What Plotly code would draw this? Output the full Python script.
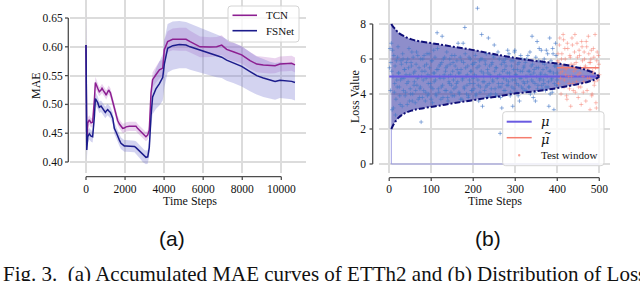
import plotly.graph_objects as go

W, H = 640, 281

# ---------------- (a) Accumulated MAE curves ----------------
steps_a = [0, 40, 90, 170, 260, 340, 430, 480, 600, 680, 770, 820, 890, 940, 990, 1030, 1110,
           1160, 1250, 1370, 1450, 1540, 1620, 1710, 1790, 1880, 1960, 2050, 2220, 2390, 2480,
           2560, 2650, 2730, 2820, 2900, 2990, 3070, 3160, 3240, 3330, 3410, 3580, 3760, 3930,
           4010, 4180, 4440, 4780, 5120, 5330, 5840, 6350, 6690, 6950, 7200, 7540, 7970, 8400,
           8740, 9080, 9420, 9680, 9930, 10280, 10530, 10700]
tcn_mae = [0.603, 0.433, 0.468, 0.473, 0.468, 0.469, 0.508, 0.538, 0.528, 0.522, 0.525, 0.528,
           0.524, 0.522, 0.519, 0.516, 0.521, 0.525, 0.520, 0.503, 0.492, 0.480, 0.472, 0.466,
           0.462, 0.4585, 0.459, 0.461, 0.462, 0.4625, 0.462, 0.462, 0.458, 0.455, 0.452,
           0.4496, 0.447, 0.444, 0.447, 0.455, 0.520, 0.543, 0.5515, 0.560, 0.563, 0.595,
           0.609, 0.613, 0.613, 0.613, 0.609, 0.600, 0.5995, 0.600, 0.603, 0.5955, 0.5915,
           0.586, 0.576, 0.570, 0.5686, 0.5675, 0.567, 0.570, 0.5704, 0.5715, 0.5686]
fsnet_mae = [0.603, 0.421, 0.444, 0.449, 0.445, 0.444, 0.479, 0.510, 0.503, 0.495, 0.497, 0.494,
             0.491, 0.489, 0.486, 0.488, 0.491, 0.489, 0.486, 0.476, 0.4585, 0.452, 0.444,
             0.438, 0.4325, 0.430, 0.428, 0.428, 0.428, 0.4275, 0.427, 0.425, 0.422, 0.418,
             0.415, 0.412, 0.409, 0.408, 0.409, 0.425, 0.480, 0.513, 0.527, 0.536, 0.547,
             0.570, 0.5975, 0.602, 0.604, 0.603, 0.600, 0.594, 0.588, 0.584, 0.582, 0.577,
             0.572, 0.566, 0.557, 0.550, 0.546, 0.542, 0.540, 0.542, 0.541, 0.540, 0.538]
tcn_spread = [0.060, 0.015, 0.009, 0.008, 0.008, 0.008, 0.009, 0.010, 0.009, 0.008, 0.008, 0.008,
              0.008, 0.008, 0.008, 0.008, 0.008, 0.008, 0.008, 0.008, 0.008, 0.008, 0.008,
              0.008, 0.008, 0.008, 0.008, 0.008, 0.008, 0.008, 0.008, 0.008, 0.008, 0.008,
              0.008, 0.008, 0.008, 0.008, 0.008, 0.009, 0.012, 0.013, 0.014, 0.015, 0.015,
              0.017, 0.018, 0.019, 0.020, 0.020, 0.019, 0.018, 0.017, 0.017, 0.017, 0.016,
              0.016, 0.015, 0.015, 0.014, 0.014, 0.014, 0.013, 0.013, 0.013, 0.013, 0.013]
fsnet_spread = [0.065, 0.020, 0.011, 0.010, 0.010, 0.010, 0.011, 0.012, 0.011, 0.010, 0.010,
                0.010, 0.010, 0.010, 0.010, 0.010, 0.010, 0.010, 0.010, 0.010, 0.010, 0.010,
                0.010, 0.010, 0.010, 0.010, 0.010, 0.010, 0.010, 0.010, 0.010, 0.011, 0.011,
                0.011, 0.011, 0.012, 0.012, 0.012, 0.012, 0.014, 0.020, 0.030, 0.035, 0.038,
                0.040, 0.041, 0.042, 0.042, 0.041, 0.040, 0.040, 0.039, 0.038, 0.037, 0.036,
                0.036, 0.035, 0.035, 0.034, 0.033, 0.033, 0.032, 0.032, 0.031, 0.031, 0.031,
                0.031]
series_a = ["TCN", "FSNet"]
mae_ticks = [0.40, 0.45, 0.50, 0.55, 0.60, 0.65]
step_ticks_a = [0, 2000, 4000, 6000, 8000, 10000]

# ---------------- (b) Distribution of loss ----------------
bound_steps = [5, 9, 14, 21, 33, 53, 73, 113, 152, 192, 232, 260, 291, 331, 371, 410, 451, 474, 490, 500]
bound_upper = [8.0, 7.85, 7.72, 7.52, 7.33, 7.12, 7.01, 6.86, 6.70, 6.55, 6.36, 6.23, 6.10, 5.94,
               5.83, 5.71, 5.50, 5.33, 5.18, 5.0]
bound_lower = [2.0, 2.2, 2.4, 2.62, 2.85, 3.05, 3.16, 3.31, 3.47, 3.62, 3.77, 3.86, 4.0, 4.11,
               4.23, 4.38, 4.57, 4.70, 4.84, 5.0]
train_steps_even = list(range(2, 401, 2))
train_loss_even = [
    6.6, 5.8, 5.3, 6.5, 3.2, 4.1, 5.6, 3.7, 4.8, 6.1, 5.2, 4.4, 3.4, 5.9, 4.9, 6.3, 4.2, 5.4, 3.9, 5.1,
    4.6, 6.0, 5.5, 3.6, 4.3, 5.8, 6.4, 4.0, 5.2, 4.7, 3.5, 5.7, 4.5, 6.2, 5.0, 3.8, 4.4, 2.4, 5.3, 6.0,
    4.2, 5.6, 3.6, 4.9, 6.3, 5.1, 4.0, 5.5, 4.6, 3.7, 5.9, 4.3, 6.5, 5.2, 4.8, 3.9, 7.5, 5.4, 4.1, 5.0,
    5.7, 4.4, 7.3, 3.8, 4.9, 6.1, 5.3, 4.2, 5.6, 3.6, 4.7, 6.0, 5.1, 4.5, 3.9, 5.8, 4.3, 6.2, 5.0, 4.6,
    5.4, 6.9, 4.1, 5.2, 3.7, 5.9, 4.8, 6.9, 4.4, 7.8, 5.5, 4.0, 5.1, 3.8, 6.1, 4.6, 5.3, 4.2, 5.7, 4.9,
    4.3, 5.8, 3.9, 5.0, 8.9, 4.5, 5.6, 4.1, 6.0, 7.4, 3.3, 5.2, 4.7, 5.9, 4.4, 3.8, 5.4, 7.2, 4.6, 5.1,
    4.0, 5.7, 4.8, 6.2, 6.8, 4.3, 5.5, 3.9, 5.0, 4.6, 6.0, 1.75, 4.4, 3.2, 5.3, 4.9, 5.8, 4.2, 5.6, 4.5,
    6.5, 4.7, 5.2, 3.9, 5.9, 4.4, 3.3, 5.4, 6.4, 4.8, 5.1, 4.1, 5.7, 4.5, 3.6, 5.3, 4.9, 6.0, 4.3, 5.5,
    4.6, 5.8, 4.2, 5.0, 6.2, 4.4, 5.3, 4.0, 5.6, 7.3, 4.7, 5.2, 4.1, 3.6, 5.5, 7.0, 4.5, 5.9, 4.8, 5.1,
    6.5, 4.3, 5.4, 4.6, 5.7, 4.2, 6.5, 5.0, 4.4, 3.3, 7.2, 5.3, 4.8, 4.1, 6.3, 3.1, 5.6, 6.9, 4.5, 5.2]
train_steps_odd = list(range(1, 400, 2))
train_loss_odd = [
    5.5, 4.2, 6.9, 3.1, 5.0, 6.2, 4.6, 2.8, 5.9, 4.4, 6.7, 5.2, 3.9, 4.8, 5.7, 3.3, 6.0, 4.9, 5.4, 4.1,
    5.8, 3.4, 4.7, 6.6, 5.1, 4.0, 5.6, 3.6, 6.1, 4.5, 5.3, 4.2, 6.4, 4.9, 3.7, 5.5, 4.3, 6.0, 5.0, 3.8,
    4.8, 6.2, 5.3, 4.1, 5.7, 3.9, 4.6, 6.3, 5.0, 4.4, 5.9, 3.5, 5.2, 4.7, 6.1, 4.0, 5.4, 6.6, 4.3, 5.6,
    4.9, 3.7, 5.8, 4.5, 6.0, 5.1, 4.2, 5.5, 6.4, 3.8, 5.0, 4.6, 5.7, 4.1, 6.2, 5.3, 4.8, 3.9, 5.6, 4.4,
    5.9, 4.7, 5.2, 4.0, 6.1, 5.4, 3.7, 4.9, 5.8, 4.3, 6.3, 5.0, 4.5, 5.6, 3.9, 4.8, 6.0, 5.3, 4.2, 5.7,
    4.6, 5.1, 6.2, 4.0, 5.5, 4.8, 3.6, 5.9, 4.4, 5.3, 6.0, 4.7, 5.0, 4.2, 5.7, 6.3, 4.5, 5.2, 3.9, 5.6,
    5.0, 4.3, 5.8, 4.7, 6.1, 5.3, 4.0, 5.5, 4.9, 6.4, 4.4, 5.1, 3.8, 5.7, 4.6, 5.9, 4.2, 5.4, 6.0, 4.8,
    5.2, 4.5, 6.3, 5.0, 4.1, 5.6, 4.8, 5.9, 4.3, 6.5, 5.1, 4.6, 5.4, 3.9, 5.8, 4.9, 6.2, 4.4, 5.3, 4.7,
    5.6, 4.2, 5.0, 6.0, 4.7, 5.3, 4.4, 6.4, 5.1, 4.8, 5.7, 3.8, 5.4, 4.6, 6.1, 5.0, 4.3, 5.5, 6.6, 4.9,
    5.2, 4.5, 5.8, 4.8, 6.0, 5.1, 4.4, 5.5, 6.3, 4.7, 5.3, 4.0, 5.9, 4.9, 6.6, 5.2, 4.6, 5.6, 6.2, 4.8]
test_steps_even = list(range(402, 501, 2))
test_loss_even = [
    6.3, 5.8, 7.2, 4.9, 6.0, 5.3, 7.4, 4.4, 6.6, 5.1, 3.9, 6.9, 5.6, 4.6, 6.2, 3.3, 5.0, 6.8, 4.2, 5.7,
    7.4, 5.4, 4.7, 6.1, 3.8, 6.5, 5.2, 4.4, 7.0, 5.9, 4.1, 6.4, 5.5, 3.6, 6.7, 4.9, 7.3, 5.8, 3.1, 6.0,
    3.9, 5.3, 6.6, 4.5, 7.4, 3.5, 5.9, 4.8, 6.2, 5.1]
test_steps_odd = list(range(401, 500, 2))
test_loss_odd = [
    5.9, 4.6, 6.8, 5.2, 4.0, 6.3, 5.6, 7.1, 4.8, 6.0, 5.4, 3.7, 6.6, 5.0, 4.3, 6.1, 5.7, 7.2, 4.6, 5.3,
    6.4, 4.1, 5.8, 6.9, 5.1, 4.4, 6.2, 5.5, 3.4, 6.7, 5.0, 4.7, 6.0, 5.6, 7.0, 4.2, 5.4, 6.3, 4.9, 5.8,
    6.5, 4.0, 5.2, 6.1, 4.7, 5.5, 3.2, 6.4, 5.0, 5.7]
mu_value = 5.0
mu_tilde_value = 5.5
first_step = 0
test_start = 400
last_step = 500
series_b = ["μ", "μ̃", "Test window"]
loss_ticks = [0, 2, 4, 6, 8]
step_ticks_b = [0, 100, 200, 300, 400, 500]


def px(x):
    return x / W


def py(y):
    return 1 - y / H


SERIF = "Liberation Serif"
TCN_C = "rgb(140,30,145)"
FSN_C = "rgb(28,28,140)"
MU_C = "rgb(105,90,225)"
SALMON = "rgb(245,125,110)"
PT_BLUE = "rgba(70,120,200,0.75)"
PT_RED = "rgba(245,125,110,0.6)"

fig = go.Figure()

# ---- (a) bands
for vals, spread, fillc in [(tcn_mae, tcn_spread, "rgba(175,90,195,0.26)"),
                            (fsnet_mae, fsnet_spread, "rgba(120,120,210,0.33)")]:
    lo = [v - s for v, s in zip(vals, spread)]
    hi = [v + s for v, s in zip(vals, spread)]
    fig.add_trace(go.Scatter(x=steps_a, y=lo, mode="lines", line=dict(width=0),
                             showlegend=False, hoverinfo="skip", xaxis="x", yaxis="y"))
    fig.add_trace(go.Scatter(x=steps_a, y=hi, mode="lines", line=dict(width=0), fill="tonexty",
                             fillcolor=fillc, showlegend=False, hoverinfo="skip", xaxis="x", yaxis="y"))

fig.add_trace(go.Scatter(x=steps_a, y=tcn_mae, mode="lines", name=series_a[0],
                         line=dict(color=TCN_C, width=1.5), xaxis="x", yaxis="y", showlegend=False))
fig.add_trace(go.Scatter(x=steps_a, y=fsnet_mae, mode="lines", name=series_a[1],
                         line=dict(color=FSN_C, width=1.5), xaxis="x", yaxis="y", showlegend=False))

# ---- (b)
fig.add_trace(go.Scatter(x=[first_step, bound_steps[0], bound_steps[0], first_step],
                         y=[bound_lower[0], bound_lower[0], bound_upper[0], bound_upper[0]],
                         mode="lines", line=dict(width=0), fill="toself",
                         fillcolor="rgba(150,150,215,0.3)", showlegend=False,
                         hoverinfo="skip", xaxis="x2", yaxis="y2"))
fig.add_trace(go.Scatter(x=[bound_steps[0], bound_steps[0], last_step],
                         y=[bound_lower[0], 0, 0], mode="lines",
                         line=dict(color="rgba(150,150,225,0.9)", width=1), showlegend=False,
                         hoverinfo="skip", xaxis="x2", yaxis="y2"))
fig.add_trace(go.Scatter(x=bound_steps, y=bound_lower, mode="lines", line=dict(width=0, shape="spline"),
                         showlegend=False, hoverinfo="skip", xaxis="x2", yaxis="y2"))
fig.add_trace(go.Scatter(x=bound_steps, y=bound_upper, mode="lines", line=dict(width=0, shape="spline"),
                         fill="tonexty", fillcolor="rgba(50,50,160,0.55)",
                         showlegend=False, hoverinfo="skip", xaxis="x2", yaxis="y2"))
fig.add_trace(go.Scatter(x=train_steps_even + train_steps_odd, y=train_loss_even + train_loss_odd,
                         mode="markers",
                         marker=dict(symbol="cross-thin", size=3,
                                     line=dict(width=0.8, color=PT_BLUE)),
                         showlegend=False, hoverinfo="skip", xaxis="x2", yaxis="y2"))
fig.add_trace(go.Scatter(x=[first_step, last_step], y=[mu_value, mu_value], mode="lines",
                         name=series_b[0], line=dict(color=MU_C, width=2),
                         xaxis="x2", yaxis="y2", showlegend=False))
fig.add_trace(go.Scatter(x=[test_start, last_step], y=[mu_tilde_value, mu_tilde_value], mode="lines",
                         name=series_b[1], line=dict(color=SALMON, width=1.5),
                         xaxis="x2", yaxis="y2", showlegend=False))
fig.add_trace(go.Scatter(x=test_steps_even + test_steps_odd, y=test_loss_even + test_loss_odd,
                         mode="markers", name=series_b[2],
                         marker=dict(symbol="cross-thin", size=3,
                                     line=dict(width=0.8, color=PT_RED)),
                         xaxis="x2", yaxis="y2", showlegend=False))
for bnd in (bound_upper, bound_lower):
    fig.add_trace(go.Scatter(x=bound_steps, y=bnd, mode="lines",
                             line=dict(color="rgb(15,15,120)", width=2, dash="6px,2px,2px,2px",
                                       shape="spline"),
                             showlegend=False, hoverinfo="skip", xaxis="x2", yaxis="y2"))

# ---- axes
grid = dict(showgrid=True, gridcolor="#dcdcdc", gridwidth=1.5, zeroline=False, showline=False,
            ticks="outside", tickcolor="rgba(0,0,0,0)",
            tickfont=dict(family=SERIF, size=11.5, color="#111"))
ydom = [py(173), 1]
fig.update_layout(
    width=W, height=H, margin=dict(l=0, r=0, t=0, b=0),
    paper_bgcolor="white", plot_bgcolor="white",
    font=dict(family=SERIF, size=12, color="#111"),
    xaxis=dict(domain=[px(70), px(306)], range=[-819, 11264], tickvals=step_ticks_a,
               tickformat="d", ticklen=5, anchor="y", **grid),
    yaxis=dict(domain=ydom, range=[0.3809, 0.6813], tickvals=mae_ticks, tickformat=".2f",
               ticklen=4, anchor="x", **grid),
    xaxis2=dict(domain=[px(379.3), px(610)], range=[-23.6, 525.5], tickvals=step_ticks_b,
                tickformat="d", ticklen=5, anchor="y2", **grid),
    yaxis2=dict(domain=ydom, range=[-0.514, 9.371], tickvals=loss_ticks,
                ticklen=10, anchor="x2", **grid),
    showlegend=False,
)

# ---- offset spines with small ticks
SP = dict(color="#4d4d4d", width=1.3)
shapes = []
sx = px(68.3)
shapes.append(dict(type="line", xref="paper", yref="y", x0=sx, x1=sx,
                   y0=min(mae_ticks), y1=max(mae_ticks), line=SP))
for t in mae_ticks:
    shapes.append(dict(type="line", xref="paper", yref="y", x0=sx, x1=px(65), y0=t, y1=t, line=SP))
by = py(176.7)
shapes.append(dict(type="line", xref="x", yref="paper", x0=min(step_ticks_a), x1=max(step_ticks_a),
                   y0=by, y1=by, line=SP))
for t in step_ticks_a:
    shapes.append(dict(type="line", xref="x", yref="paper", x0=t, x1=t, y0=by, y1=py(180), line=SP))
sx2 = px(372.7)
shapes.append(dict(type="line", xref="paper", yref="y2", x0=sx2, x1=sx2,
                   y0=min(loss_ticks), y1=max(loss_ticks), line=SP))
for t in loss_ticks:
    shapes.append(dict(type="line", xref="paper", yref="y2", x0=sx2, x1=px(369.5), y0=t, y1=t, line=SP))
by2 = py(177.7)
shapes.append(dict(type="line", xref="x2", yref="paper", x0=min(step_ticks_b), x1=max(step_ticks_b),
                   y0=by2, y1=by2, line=SP))
for t in step_ticks_b:
    shapes.append(dict(type="line", xref="x2", yref="paper", x0=t, x1=t, y0=by2, y1=py(181), line=SP))


def rounded_box(x0, y0, x1, y1, r=3):
    X, Y = px, py
    path = (f"M {X(x0 + r)},{Y(y0)} L {X(x1 - r)},{Y(y0)} Q {X(x1)},{Y(y0)} {X(x1)},{Y(y0 + r)} "
            f"L {X(x1)},{Y(y1 - r)} Q {X(x1)},{Y(y1)} {X(x1 - r)},{Y(y1)} "
            f"L {X(x0 + r)},{Y(y1)} Q {X(x0)},{Y(y1)} {X(x0)},{Y(y1 - r)} "
            f"L {X(x0)},{Y(y0 + r)} Q {X(x0)},{Y(y0)} {X(x0 + r)},{Y(y0)} Z")
    return dict(type="path", xref="paper", yref="paper", path=path,
                fillcolor="rgba(255,255,255,0.8)", line=dict(color="#d4d4d4", width=1), layer="above")


ann = []
# legend (a)
shapes.append(rounded_box(228, 6, 299, 42))
for name, col, yy in [(series_a[0], TCN_C, 15.3), (series_a[1], FSN_C, 30.7)]:
    shapes.append(dict(type="line", xref="paper", yref="paper", x0=px(232.5), x1=px(257),
                       y0=py(yy), y1=py(yy), line=dict(color=col, width=1.6), layer="above"))
    ann.append(dict(text=name, x=px(264), y=py(yy), xanchor="left", font=dict(family=SERIF, size=11)))
# legend (b)
shapes.append(rounded_box(502.7, 111.7, 604, 165.7))
shapes.append(dict(type="line", xref="paper", yref="paper", x0=px(506.7), x1=px(531.7),
                   y0=py(121.7), y1=py(121.7), line=dict(color=MU_C, width=2), layer="above"))
shapes.append(dict(type="line", xref="paper", yref="paper", x0=px(506.7), x1=px(531.7),
                   y0=py(137.7), y1=py(137.7), line=dict(color=SALMON, width=1.5), layer="above"))
shapes.append(dict(type="circle", xref="paper", yref="paper", x0=px(518), x1=px(520.4),
                   y0=py(154), y1=py(156.4), fillcolor="rgba(245,125,110,0.7)", line=dict(width=0),
                   layer="above"))
ann.append(dict(text=f"<i>{series_b[0]}</i>", x=px(539), y=py(122), xanchor="left",
                font=dict(family="DejaVu Serif", size=13)))
ann.append(dict(text=f"<i>{series_b[0]}</i>", x=px(539), y=py(139.5), xanchor="left",
                font=dict(family="DejaVu Serif", size=13)))
ann.append(dict(text="~", x=px(541.5), y=py(132.5), xanchor="left",
                font=dict(family="DejaVu Serif", size=9)))
ann.append(dict(text=series_b[2], x=px(539), y=py(155), xanchor="left", font=dict(family=SERIF, size=11)))

fig.update_layout(shapes=shapes)

# ---- titles and captions
ann += [
    dict(text="MAE", x=px(36), y=py(86), textangle=-90, font=dict(family=SERIF, size=12)),
    dict(text="Time Steps", x=px(190), y=py(201), font=dict(family=SERIF, size=12)),
    dict(text="Loss Value", x=px(355), y=py(97), textangle=-90, font=dict(family=SERIF, size=12)),
    dict(text="Time Steps", x=px(495), y=py(201), font=dict(family=SERIF, size=12)),
    dict(text="(a)", x=px(172), y=py(238), font=dict(family="Liberation Sans", size=21)),
    dict(text="(b)", x=px(488), y=py(238), font=dict(family="Liberation Sans", size=21)),
    dict(text="Fig. 3.\u00a0 (a) Accumulated MAE curves of ETTh2 and (b) Distribution of Loss",
         x=px(1), y=py(274), xanchor="left", font=dict(family=SERIF, size=21)),
]
for a in ann:
    a.setdefault("xanchor", "center")
    a.update(xref="paper", yref="paper", yanchor="middle", showarrow=False)
    a["font"].setdefault("color", "#111")
fig.update_layout(annotations=ann)

fig.write_html("out.html", config={"displayModeBar": False},
               post_script="document.body.style.margin='0';document.body.style.overflow='hidden';")
